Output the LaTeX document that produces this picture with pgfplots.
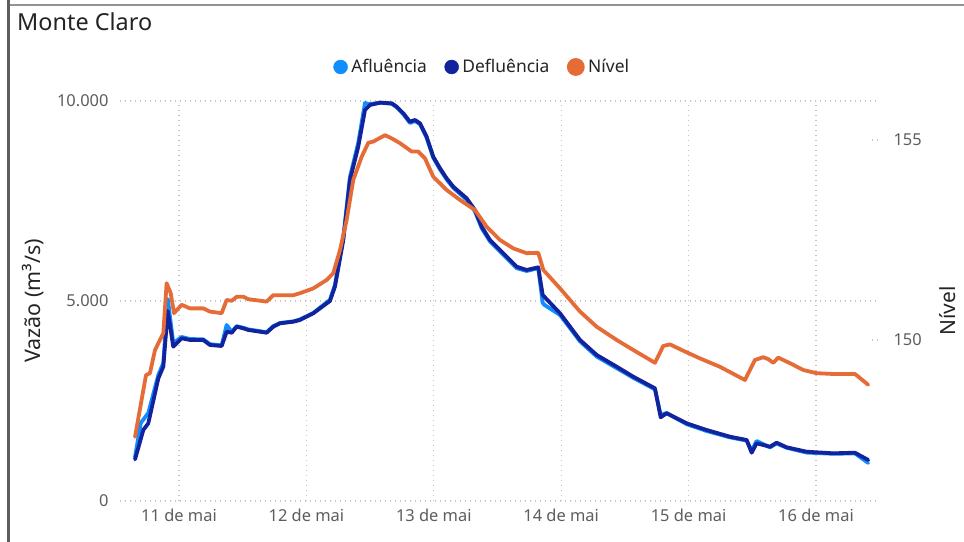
\documentclass[border=0pt]{standalone}
\usepackage{fontspec}
\setmainfont{Noto Sans}
\usepackage{pgfplots}
\usepackage{pgfplotstable}
\pgfplotsset{compat=1.18}

\definecolor{afl}{HTML}{118DFF}
\definecolor{defl}{HTML}{12239E}
\definecolor{niv}{HTML}{E66C37}
\definecolor{tickgray}{HTML}{605E5C}
\definecolor{txt}{HTML}{252423}
\definecolor{gridc}{HTML}{C8C6C4}

% dia (maio), vazao em m3/s
\pgfplotstableread{
d v
10.655 1040
10.720 1775
10.759 1942
10.838 3067
10.877 3358
10.912 4750
10.955 3858
11.021 4067
11.086 4025
11.191 4025
11.243 3900
11.335 3875
11.374 4232
11.414 4207
11.453 4357
11.505 4317
11.544 4275
11.688 4207
11.740 4357
11.793 4442
11.897 4482
11.950 4525
12.054 4692
12.185 5000
12.224 5357
12.290 6525
12.342 8025
12.407 8857
12.460 9775
12.499 9900
12.578 9957
12.670 9942
12.709 9857
12.761 9692
12.813 9482
12.852 9525
12.892 9442
12.944 9107
12.996 8607
13.049 8317
13.101 8067
13.153 7857
13.258 7567
13.323 7275
13.376 6857
13.441 6525
13.520 6275
13.598 6025
13.651 5857
13.729 5775
13.820 5842
13.855 5150
13.991 4692
14.148 4025
14.279 3650
14.436 3357
14.566 3107
14.736 2817
14.781 2092
14.828 2192
14.985 1942
15.142 1775
15.325 1607
15.456 1525
15.495 1207
15.534 1442
15.639 1357
15.691 1457
15.770 1342
15.927 1232
16.136 1192
16.306 1207
16.410 1025
}\defl

\pgfplotstableread{
d v
10.655 1100
10.700 1950
10.759 2200
10.838 3150
10.877 3450
10.912 5050
10.955 3950
11.021 4100
11.086 4050
11.191 4040
11.243 3920
11.335 3890
11.374 4400
11.414 4230
11.453 4370
11.505 4330
11.544 4290
11.688 4220
11.740 4370
11.793 4450
11.897 4490
11.950 4540
12.054 4700
12.185 5030
12.224 5400
12.290 6600
12.342 8100
12.407 8950
12.460 9950
12.499 9920
12.578 9960
12.670 9930
12.709 9840
12.761 9670
12.813 9450
12.852 9500
12.892 9420
12.944 9080
12.996 8580
13.049 8290
13.101 8040
13.153 7830
13.258 7530
13.323 7240
13.376 6820
13.441 6490
13.520 6240
13.598 5990
13.651 5820
13.729 5750
13.820 5820
13.855 4950
13.870 4900
13.991 4650
14.148 3990
14.279 3610
14.436 3320
14.566 3080
14.736 2790
14.781 2150
14.828 2200
14.985 1920
15.142 1750
15.325 1590
15.456 1510
15.495 1260
15.534 1500
15.639 1340
15.691 1440
15.770 1330
15.927 1210
16.136 1180
16.306 1190
16.410 950
}\afl

% dia (maio), nivel
\pgfplotstableread{
d n
10.655 147.58
10.741 149.12
10.772 149.17
10.812 149.75
10.877 150.17
10.903 151.42
10.935 151.17
10.961 150.67
11.021 150.88
11.086 150.79
11.191 150.79
11.243 150.71
11.335 150.67
11.374 151.00
11.414 150.98
11.453 151.08
11.505 151.08
11.544 151.02
11.688 150.96
11.740 151.12
11.897 151.12
11.950 151.17
12.054 151.29
12.159 151.50
12.211 151.67
12.264 152.25
12.316 153.00
12.368 154.00
12.434 154.58
12.486 154.93
12.525 154.96
12.617 155.12
12.670 155.04
12.735 154.92
12.827 154.71
12.878 154.71
12.931 154.54
12.996 154.08
13.101 153.75
13.206 153.50
13.323 153.25
13.415 152.83
13.520 152.50
13.624 152.29
13.729 152.17
13.820 152.18
13.860 151.75
13.991 151.29
14.148 150.71
14.279 150.33
14.436 150.00
14.566 149.75
14.736 149.43
14.801 149.85
14.854 149.89
14.946 149.75
15.089 149.54
15.246 149.33
15.442 149.00
15.521 149.50
15.586 149.57
15.626 149.52
15.665 149.43
15.704 149.56
15.796 149.42
15.900 149.25
16.005 149.17
16.136 149.15
16.306 149.15
16.410 148.88
}\nivel

\pgfplotsset{
  pbi/.style={
    at={(120bp,41bp)}, anchor=south west,
    scale only axis, width=758bp, height=400bp,
    xmin=10.537, xmax=16.487,
    clip=false,
    axis line style={draw=none},
    tick label style={font=\fontsize{16.5}{18}\selectfont, text=tickgray},
    /pgf/number format/.cd, assume math mode=true, 1000 sep={.},
  },
  pbiline/.style={line width=3.8bp, line join=round, line cap=round},
}

\begin{document}
\begin{tikzpicture}[x=1bp,y=1bp]
\useasboundingbox (0,0) rectangle (964,542);
\fill[white] (0,0) rectangle (964,542);
\draw[gray!85, line width=2bp] (8.5,536.5) -- (964,536.5);
\draw[tickgray, line width=2.6bp] (8.5,0) -- (8.5,542);
\node[anchor=base west, font=\fontsize{23.5}{27}\selectfont, text=txt, inner sep=0] at (17,511.5) {Monte Claro};

\begin{axis}[pbi,
  ymin=0, ymax=10000,
  ytick={0,5000,10000},
  scaled y ticks=false,
  xtick={11,12,13,14,15,16},
  xticklabels={11 de mai,12 de mai,13 de mai,14 de mai,15 de mai,16 de mai},
  tick style={draw=none},
  grid=major,
  major grid style={gridc, line width=1.3bp, dash pattern=on 1.3bp off 3.7bp},
  yticklabel style={xshift=-8bp},
  xticklabel style={yshift=-4bp},
  ylabel={Vazão (m³/s)},
  ylabel style={at={(axis description cs:-0.115,0.5)}, anchor=center, rotate=0,
    font=\fontsize{21.5}{24}\selectfont, text=txt},
]
\addplot[pbiline, afl] table[x=d, y=v] {\afl};
\addplot[pbiline, defl] table[x=d, y=v] {\defl};
\end{axis}

\begin{axis}[pbi,
  ymin=145.975, ymax=155.975,
  axis x line=none,
  axis y line*=right,
  ytick={150,155},
  ytick style={draw=gridc, line width=1.3bp, dash pattern=on 1.3bp off 3.7bp},
  major tick length=8bp,
  yticklabel style={xshift=12bp},
  ylabel={Nível},
  ylabel style={at={(axis description cs:1.092,0.475)}, anchor=center, rotate=0,
    font=\fontsize{21}{24}\selectfont, text=txt},
  legend columns=3,
  legend style={at={(0.4776,1.085)}, anchor=center, draw=none, fill=none,
    font=\fontsize{17.5}{20}\selectfont, text=txt,
    /tikz/every odd column/.append style={column sep=2bp},
    /tikz/every even column/.append style={column sep=16bp},
    nodes={inner sep=1.5bp}},
  legend image code/.code={\fill[#1] (3bp,0bp) circle (7bp);},
]
\addlegendimage{afl}
\addlegendimage{defl}
\addplot[pbiline, niv] table[x=d, y=n] {\nivel};
\legend{Afluência, Defluência, Nível}
\end{axis}
\end{tikzpicture}
\end{document}
